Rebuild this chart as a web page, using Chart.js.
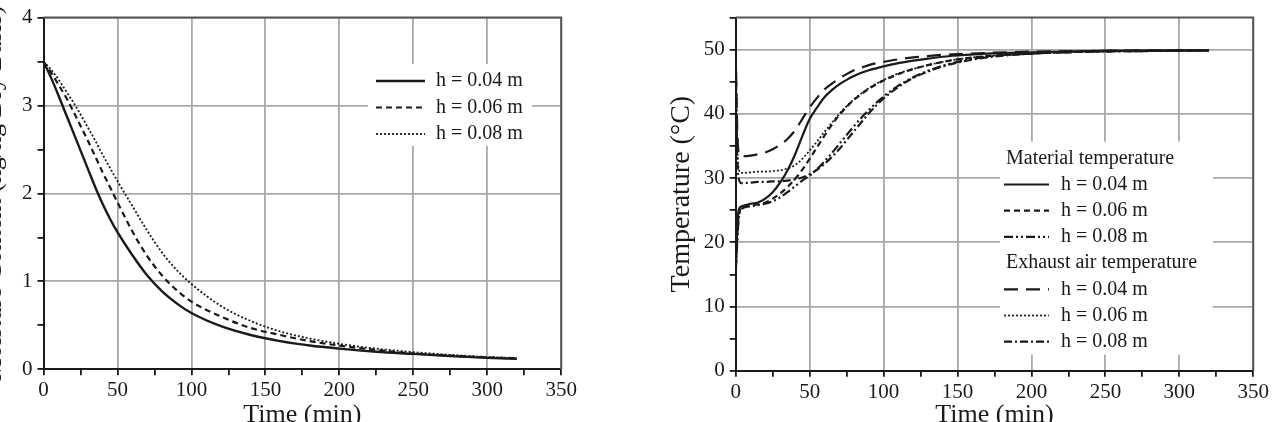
<!DOCTYPE html>
<html>
<head>
<meta charset="utf-8">
<script src="https://cdn.jsdelivr.net/npm/chart.js@4.4.1/dist/chart.umd.min.js"></script>
<style>
    html, body { margin: 0; padding: 0; background: #fff; width: 1272px; height: 422px; overflow: hidden; position: relative; }
    .chart-box { position: absolute; top: 0; height: 440px; }
    #left-box { left: -21px; width: 601px; }
    #right-box { left: 640px; width: 632px; }
</style>
</head>
<body>
<div class="chart-box" id="left-box"><canvas id="moisture-chart"></canvas></div>
<div class="chart-box" id="right-box"><canvas id="temp-chart"></canvas></div>
<script>
/*----------------------------------------------------------------------------*/
/* Data                                                                       */
/*----------------------------------------------------------------------------*/
// moisture content (kg/kg dry basis) vs drying time
const moisture_time = [0, 5, 10, 15, 20, 25, 30, 35, 40, 45, 50, 60, 70, 80, 90, 100, 120, 140, 160, 180, 200, 225, 250, 275, 300, 320];
const mc_004 = [3.5, 3.32, 3.12, 2.91, 2.7, 2.49, 2.28, 2.07, 1.88, 1.71, 1.56, 1.3, 1.07, 0.89, 0.75, 0.64, 0.49, 0.39, 0.32, 0.27, 0.235, 0.2, 0.175, 0.15, 0.13, 0.12];
const mc_006 = [3.5, 3.38, 3.24, 3.1, 2.94, 2.77, 2.6, 2.42, 2.24, 2.07, 1.9, 1.57, 1.29, 1.07, 0.9, 0.77, 0.6, 0.47, 0.39, 0.32, 0.27, 0.22, 0.18, 0.155, 0.135, 0.125];
const mc_008 = [3.5, 3.41, 3.3, 3.17, 3.04, 2.9, 2.75, 2.6, 2.44, 2.29, 2.14, 1.86, 1.58, 1.33, 1.13, 0.97, 0.72, 0.55, 0.43, 0.35, 0.29, 0.235, 0.195, 0.165, 0.14, 0.13];

// material / exhaust air temperature (oC) vs drying time
const temp_time = [0, 1, 2, 4, 10, 15, 20, 25, 30, 35, 40, 45, 50, 55, 60, 65, 70, 75, 80, 85, 90, 95, 100, 110, 120, 130, 140, 150, 170, 200, 240, 280, 320];
const mat_004 = [15, 22, 25, 25.6, 26, 26.2, 26.8, 27.8, 29.3, 31.2, 33.6, 36.5, 39.2, 41, 42.6, 43.7, 44.6, 45.3, 45.9, 46.4, 46.8, 47.1, 47.4, 47.9, 48.3, 48.6, 48.9, 49.1, 49.4, 49.6, 49.8, 49.9, 49.9];
const mat_006 = [15, 21, 24, 25.4, 25.8, 25.9, 26.2, 26.8, 27.6, 28.6, 29.8, 31.3, 33, 34.8, 36.6, 38.3, 39.8, 41.1, 42.2, 43.1, 43.9, 44.6, 45.2, 46.2, 47, 47.6, 48.1, 48.5, 49, 49.4, 49.7, 49.8, 49.9];
const mat_008 = [15, 20, 23.5, 25.2, 25.6, 25.8, 26, 26.4, 27, 27.8, 28.7, 29.6, 30.4, 31.4, 32.6, 33.9, 35.3, 36.7, 38.1, 39.4, 40.6, 41.7, 42.7, 44.4, 45.7, 46.7, 47.5, 48.1, 48.9, 49.4, 49.7, 49.8, 49.9];
const exh_004 = [50, 38, 34, 33.4, 33.5, 33.7, 34, 34.5, 35.2, 36.1, 37.4, 39.2, 41, 42.5, 43.8, 44.7, 45.5, 46.2, 46.8, 47.2, 47.6, 47.9, 48.1, 48.5, 48.8, 49, 49.2, 49.3, 49.5, 49.7, 49.8, 49.9, 49.9];
const exh_006 = [50, 36, 31.5, 30.8, 30.9, 31, 31, 31.1, 31.2, 31.5, 32, 33, 34.3, 35.7, 37.2, 38.6, 40, 41.2, 42.3, 43.2, 44, 44.7, 45.3, 46.3, 47, 47.6, 48.1, 48.5, 49, 49.4, 49.7, 49.8, 49.9];
const exh_008 = [50, 34, 30, 29.2, 29.3, 29.4, 29.4, 29.5, 29.5, 29.6, 29.8, 30.1, 30.6, 31.3, 32.2, 33.3, 34.5, 35.9, 37.3, 38.7, 40.1, 41.3, 42.4, 44.2, 45.6, 46.6, 47.4, 48, 48.8, 49.4, 49.7, 49.8, 49.9];

const height_labels = ["h = 0.04 m", "h = 0.06 m", "h = 0.08 m"];

/*----------------------------------------------------------------------------*/
/* Styles                                                                     */
/*----------------------------------------------------------------------------*/
const SERIF = '"Liberation Serif", "Times New Roman", serif';
const INK = "#1a1a1a";
const GRID = "#a8a8a8";

function to_points(times, values) {
    return times.map((t, i) => ({ x: t, y: values[i] }));
}

function line_set(label, times, values, dash, width) {
    return {
        label: label,
        data: to_points(times, values),
        borderColor: INK,
        borderWidth: width,
        borderDash: dash,
        pointRadius: 0,
        fill: false,
        cubicInterpolationMode: "monotone"
    };
}

function x_axis(axis_height) {
    return {
        type: "linear",
        min: 0,
        max: 350,
        ticks: {
            stepSize: 25,
            autoSkip: false,
            maxRotation: 0,
            color: INK,
            padding: 3,
            font: { family: SERIF, size: 21 },
            callback: v => (v % 50 === 0 ? v : "")
        },
        grid: {
            color: c => (c.tick && c.tick.value % 50 === 0 ? GRID : "transparent"),
            lineWidth: 1.8,
            tickColor: INK,
            tickLength: 6
        },
        border: { color: INK, width: 2 },
        title: {
            display: true,
            text: "Time (min)",
            color: INK,
            font: { family: SERIF, size: 26 },
            padding: { top: 0, bottom: 9 }
        },
        afterFit: s => { s.height = axis_height; }
    };
}

function y_axis(max, step, major, title, title_size, axis_width, title_pad) {
    return {
        type: "linear",
        min: 0,
        max: max,
        ticks: {
            stepSize: step,
            autoSkip: false,
            color: INK,
            padding: 5,
            font: { family: SERIF, size: 21 },
            callback: v => (Math.abs(v / major - Math.round(v / major)) < 1e-6 ? v : "")
        },
        grid: {
            color: c => (c.tick && Math.abs(c.tick.value / major - Math.round(c.tick.value / major)) < 1e-6 ? GRID : "transparent"),
            lineWidth: 1.8,
            tickColor: INK,
            tickLength: 6
        },
        border: { color: INK, width: 2 },
        title: {
            display: true,
            text: title,
            color: INK,
            font: { family: SERIF, size: title_size },
            padding: { top: title_pad, bottom: 0 }
        },
        afterFit: s => { s.width = axis_width; }
    };
}

/*----------------------------------------------------------------------------*/
/* Plugins                                                                    */
/*----------------------------------------------------------------------------*/
// grey top and right edges of the plot box
const frame_plugin = {
    id: "frame",
    afterDraw(chart) {
        const { ctx, chartArea: a } = chart;
        ctx.save();
        ctx.strokeStyle = "#555";
        ctx.lineWidth = 2;
        ctx.beginPath();
        ctx.moveTo(a.left, a.top);
        ctx.lineTo(a.right, a.top);
        ctx.lineTo(a.right, a.bottom);
        ctx.stroke();
        ctx.restore();
    }
};

// legend in a white box inside the plot, like the original figure
const box_legend_plugin = {
    id: "boxLegend",
    beforeDatasetsDraw(chart, args, opts) {
        if (!opts.rows) {
            return;
        }
        const { ctx, chartArea: a } = chart;
        ctx.save();
        ctx.fillStyle = "#fff";
        ctx.fillRect(a.left + opts.box[0], a.top + opts.box[1], opts.box[2] - opts.box[0], opts.box[3] - opts.box[1]);
        ctx.font = `${opts.fontSize}px ${SERIF}`;
        ctx.fillStyle = INK;
        ctx.textBaseline = "middle";
        opts.rows.forEach((row, i) => {
            const y = a.top + opts.firstRow + i * opts.rowGap;
            if (row.heading) {
                ctx.fillText(row.heading, a.left + opts.headingX, y);
                return;
            }
            const ds = chart.data.datasets[row.dataset];
            ctx.strokeStyle = ds.borderColor;
            ctx.lineWidth = ds.borderWidth;
            ctx.setLineDash(ds.borderDash || []);
            ctx.beginPath();
            ctx.moveTo(a.left + opts.sampleX[0], y);
            ctx.lineTo(a.left + opts.sampleX[1], y);
            ctx.stroke();
            ctx.setLineDash([]);
            ctx.fillText(ds.label, a.left + opts.textX, y);
        });
        ctx.restore();
    }
};

/*----------------------------------------------------------------------------*/
/* Moisture chart                                                             */
/*----------------------------------------------------------------------------*/
new Chart(document.getElementById("moisture-chart"), {
    type: "line",
    data: {
        datasets: [
            line_set(height_labels[0], moisture_time, mc_004, [], 2.4),
            line_set(height_labels[1], moisture_time, mc_006, [6, 4], 2.2),
            line_set(height_labels[2], moisture_time, mc_008, [2, 2], 1.8)
        ]
    },
    options: {
        responsive: true,
        maintainAspectRatio: false,
        animation: false,
        layout: { padding: { top: 6.6, right: 16.5, bottom: 0, left: 0 } },
        scales: {
            x: x_axis(70.7),
            y: y_axis(4, 0.5, 1, "Moisture Content (kg/kg Dry Basis)", 26, 64.5, 0)
        },
        plugins: {
            legend: { display: false },
            tooltip: { enabled: false },
            boxLegend: {
                box: [324.5, 46.4, 488.5, 128.4],
                sampleX: [332.5, 381.5],
                textX: 392.5,
                headingX: 332.5,
                firstRow: 63.4,
                rowGap: 26.5,
                fontSize: 20,
                rows: [{ dataset: 0 }, { dataset: 1 }, { dataset: 2 }]
            }
        }
    },
    plugins: [frame_plugin, box_legend_plugin]
});

/*----------------------------------------------------------------------------*/
/* Temperature chart                                                          */
/*----------------------------------------------------------------------------*/
new Chart(document.getElementById("temp-chart"), {
    type: "line",
    data: {
        datasets: [
            line_set(height_labels[0], temp_time, mat_004, [], 2.2),
            line_set(height_labels[1], temp_time, mat_006, [6, 4], 2.2),
            line_set(height_labels[2], temp_time, mat_008, [9, 3, 2, 3, 2, 3], 2.2),
            line_set(height_labels[0], temp_time, exh_004, [14, 8], 2.2),
            line_set(height_labels[1], temp_time, exh_006, [2, 2], 1.7),
            line_set(height_labels[2], temp_time, exh_008, [8, 3, 2, 3], 2.2)
        ]
    },
    options: {
        responsive: true,
        maintainAspectRatio: false,
        animation: false,
        layout: { padding: { top: 6, right: 16, bottom: 0, left: 0 } },
        scales: {
            x: x_axis(69.3),
            y: y_axis(55, 5, 10, "Temperature (\u00B0C)", 28, 95.7, 25)
        },
        plugins: {
            legend: { display: false },
            tooltip: { enabled: false },
            boxLegend: {
                box: [264.3, 124, 477.3, 337],
                sampleX: [268.3, 313.3],
                textX: 325.3,
                headingX: 270.3,
                firstRow: 140.7,
                rowGap: 26.2,
                fontSize: 20,
                rows: [
                    { heading: "Material temperature" },
                    { dataset: 0 }, { dataset: 1 }, { dataset: 2 },
                    { heading: "Exhaust air temperature" },
                    { dataset: 3 }, { dataset: 4 }, { dataset: 5 }
                ]
            }
        }
    },
    plugins: [frame_plugin, box_legend_plugin]
});
</script>
</body>
</html>
